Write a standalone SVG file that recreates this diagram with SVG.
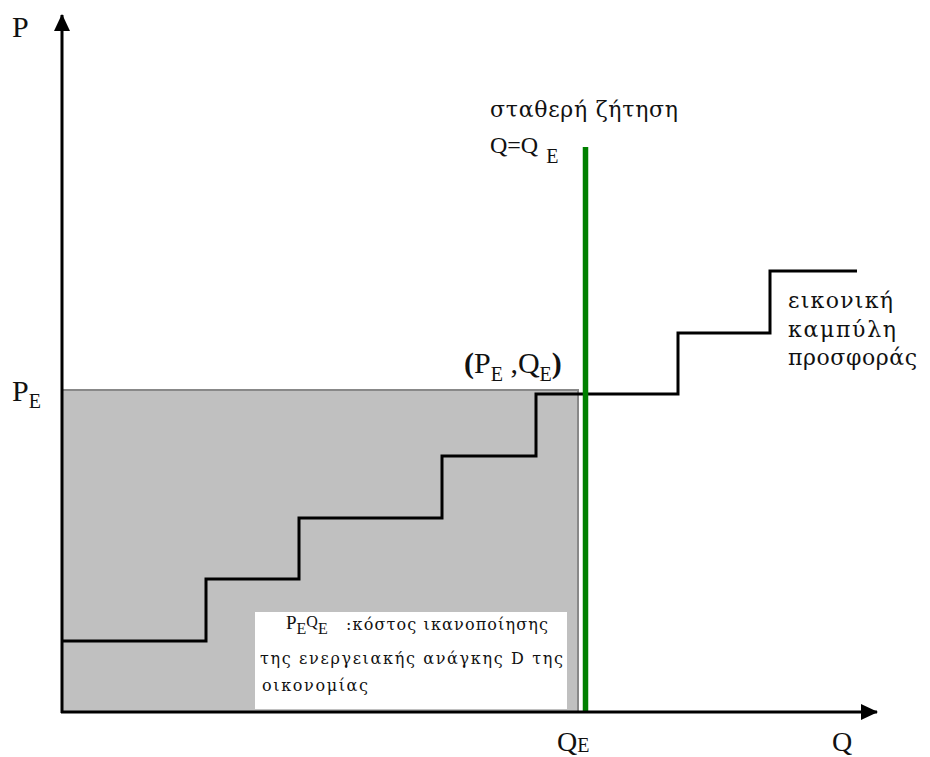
<svg xmlns="http://www.w3.org/2000/svg" width="930" height="757" viewBox="0 0 930 757">
  <style>
    text { font-family: "Liberation Serif", "DejaVu Serif", serif; fill: #111; }
    .gr { font-family: "DejaVu Serif", "Liberation Serif", serif; }
    .axis { stroke: #000; stroke-width: 3; fill: none; }
    .step { stroke: #000; stroke-width: 3; fill: none; stroke-linejoin: miter; }
    .lbl { font-size: 30px; }
    .sub { font-size: 20px; }
    .note { font-size: 16px; }
    .green { stroke: #008000; stroke-width: 5.5; }
  </style>
  <defs>
    <marker id="arrow" viewBox="0 0 17 16" refX="16" refY="8" markerWidth="17" markerHeight="16" markerUnits="userSpaceOnUse" orient="auto">
      <path d="M0,0 L17,8 L0,16 Z" fill="#000"/>
    </marker>
  </defs>
  <rect width="930" height="757" fill="#fff"/>

  <!-- total cost area P_E x Q_E -->
  <g id="cost-area">
    <rect x="62" y="390" width="516" height="322" fill="#c0c0c0"/>
    <polyline points="62,390 578,390 578,712" fill="none" stroke="#888" stroke-width="2"/>
  </g>

  <!-- stepped supply curve -->
  <g id="supply-curve">
    <polyline class="step" points="62,641 206,641 206,579 299,579 299,518 442,518 442,456 536,456 536,394 678,394 678,333 770,333 770,271 857,271"/>
  </g>

  <!-- cost annotation box -->
  <g id="cost-note">
    <rect x="255" y="612" width="312" height="97" fill="#fff"/>
    <text x="286" y="629" font-size="19">P<tspan font-size="16" dy="5">E</tspan><tspan font-size="16" dy="-7">Q</tspan><tspan font-size="16" dy="7">E</tspan></text>
    <text class="note gr" x="346" y="630" textLength="202" lengthAdjust="spacing">:κόστος ικανοποίησης</text>
    <text class="note gr" x="260" y="664" textLength="303" lengthAdjust="spacing">της ενεργειακής ανάγκης D της</text>
    <text class="note gr" x="262" y="691" textLength="106" lengthAdjust="spacing">οικονομίας</text>
  </g>

  <!-- fixed demand line Q = Q_E -->
  <g id="demand-line">
    <line class="green" x1="585.5" y1="147" x2="585.5" y2="712"/>
  </g>

  <!-- axes -->
  <g id="axes">
    <line class="axis" x1="62" y1="713" x2="62" y2="15" marker-end="url(#arrow)"/>
    <line class="axis" x1="61" y1="712" x2="877" y2="712" marker-end="url(#arrow)"/>
  </g>

  <!-- labels -->
  <g id="labels">
    <text class="lbl" x="12" y="37">P</text>
    <text class="lbl" x="12" y="401">P<tspan class="sub" dy="7">E</tspan></text>
    <text x="557" y="751" font-size="28">Q<tspan class="sub" font-size="18" dy="1">E</tspan></text>
    <text x="832" y="751" font-size="28">Q</text>
    <text class="lbl" x="464" y="373"><tspan font-weight="bold">(</tspan>P<tspan class="sub" dy="8">E</tspan><tspan dy="-8"> ,</tspan>Q<tspan class="sub" dy="8">E</tspan><tspan dy="-8" font-weight="bold">)</tspan></text>
    <text class="gr" x="490" y="117" font-size="22" textLength="188" lengthAdjust="spacing">σταθερή ζήτηση</text>
    <text x="490" y="153" font-size="24">Q=Q<tspan font-size="20" dx="8" dy="10">E</tspan></text>
    <text class="gr" x="788" y="308" font-size="22" textLength="105" lengthAdjust="spacing">εικονική</text>
    <text class="gr" x="788" y="337" font-size="22" textLength="108" lengthAdjust="spacing">καμπύλη</text>
    <text class="gr" x="788" y="365" font-size="22" textLength="129" lengthAdjust="spacing">προσφοράς</text>
  </g>
</svg>
